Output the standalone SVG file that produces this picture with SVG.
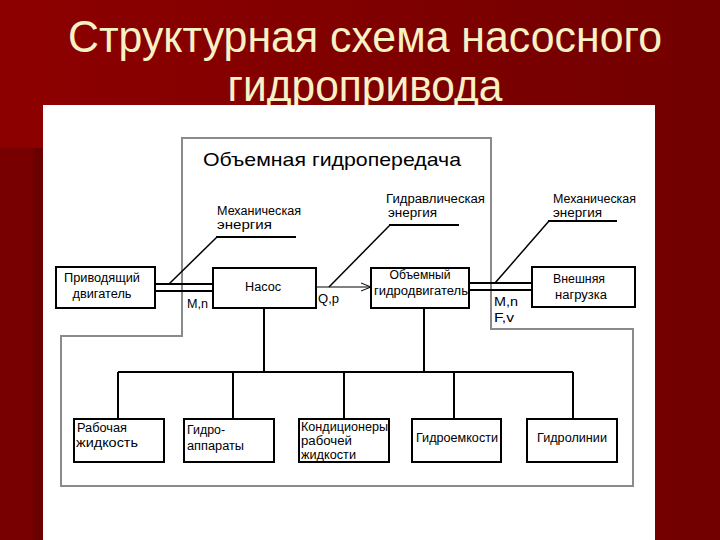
<svg xmlns="http://www.w3.org/2000/svg" width="720" height="540" viewBox="0 0 720 540">
<defs>
<linearGradient id="bg" x1="0" y1="0" x2="1" y2="0">
<stop offset="0" stop-color="#8e0000"/>
<stop offset="1" stop-color="#720000"/>
</linearGradient>
<marker id="arr" markerWidth="12" markerHeight="10" refX="11" refY="5" orient="auto" markerUnits="userSpaceOnUse">
<path d="M1,1 L11,5 L1,9" fill="none" stroke="#000" stroke-width="1"/>
</marker>
<style>
.box{fill:#fff;stroke:#000;stroke-width:2}
.ln{fill:none;stroke:#000;stroke-width:2}
.th{fill:none;stroke:#000;stroke-width:1}
.dg{fill:none;stroke:#000;stroke-width:1.5}
.fr{fill:none;stroke:#8a8a8a;stroke-width:2}
.t{font-family:"Liberation Sans",Arial,sans-serif;font-size:12px;fill:#000}
.tc{text-anchor:middle}
.title{font-family:"Liberation Sans",Arial,sans-serif;font-size:44px;fill:#f7f2c6;text-anchor:middle}
</style>
</defs>
<rect x="0" y="0" width="720" height="540" fill="url(#bg)"/>
<rect x="0" y="148" width="43" height="392" fill="#780000"/>
<rect x="33" y="148" width="10" height="392" fill="#6a0000"/>
<g id="title">
<text class="title" x="365" y="52" textLength="594" lengthAdjust="spacingAndGlyphs">Структурная схема насосного</text>
<text class="title" x="365" y="101" textLength="275" lengthAdjust="spacingAndGlyphs">гидропривода</text>
</g>
<rect x="43" y="105" width="612" height="435" fill="#fff"/>
<g id="frame">
<polygon class="fr" points="182,138 491,138 491,329 633,329 633,486 61,486 61,336 182,336"/>
<text class="t" x="203" y="166" style="font-size:19px" textLength="258" lengthAdjust="spacingAndGlyphs">Объемная гидропередача</text>
</g>
<g id="connectors">
<path class="ln" d="M155,284 H213 M155,291 H213"/>
<path class="dg" d="M169,284 L217,237"/>
<path class="ln" d="M216,237 H296"/>
<path class="th" d="M316,287 H371" marker-end="url(#arr)"/>
<path class="dg" d="M329,287 L390,225"/>
<path class="ln" d="M389,225 H459"/>
<path class="ln" d="M469,283 H532 M469,290 H532"/>
<path class="dg" d="M495,283 L549,221"/>
<path class="ln" d="M548,221 H617"/>
<path class="ln" d="M264,308 V372 M424,308 V372 M118,372 H573"/>
<path class="ln" d="M118,372 V419 M233,372 V419 M344,372 V419 M454,372 V419 M573,372 V419"/>
</g>
<g id="labels">
<text class="t" x="217" y="215" textLength="84" lengthAdjust="spacingAndGlyphs">Механическая</text>
<text class="t" x="217" y="229" textLength="55" lengthAdjust="spacingAndGlyphs">энергия</text>
<text class="t" x="386" y="203" textLength="99" lengthAdjust="spacingAndGlyphs">Гидравлическая</text>
<text class="t" x="388" y="217" textLength="49" lengthAdjust="spacingAndGlyphs">энергия</text>
<text class="t" x="553" y="203" textLength="83" lengthAdjust="spacingAndGlyphs">Механическая</text>
<text class="t" x="553" y="217" textLength="49" lengthAdjust="spacingAndGlyphs">энергия</text>
<text class="t" x="187" y="308" textLength="21" lengthAdjust="spacingAndGlyphs">M,n</text>
<text class="t" x="318" y="303" textLength="21" lengthAdjust="spacingAndGlyphs">Q,p</text>
<text class="t" x="494" y="306" textLength="24" lengthAdjust="spacingAndGlyphs">M,n</text>
<text class="t" x="494" y="322" textLength="20" lengthAdjust="spacingAndGlyphs">F,v</text>
</g>
<g id="drive">
<rect class="box" x="56" y="267" width="99" height="41"/>
<text class="t tc" x="102" y="282" textLength="76" lengthAdjust="spacingAndGlyphs">Приводящий</text>
<text class="t tc" x="102" y="298" textLength="59" lengthAdjust="spacingAndGlyphs">двигатель</text>
</g>
<g id="pump">
<rect class="box" x="213" y="268" width="103" height="40"/>
<text class="t tc" x="263" y="291" textLength="36" lengthAdjust="spacingAndGlyphs">Насос</text>
</g>
<g id="motor">
<rect class="box" x="371" y="268" width="98" height="40"/>
<text class="t tc" x="420" y="279" textLength="61" lengthAdjust="spacingAndGlyphs">Объемный</text>
<text class="t tc" x="421" y="295" textLength="94" lengthAdjust="spacingAndGlyphs">гидродвигатель</text>
</g>
<g id="load">
<rect class="box" x="532" y="267" width="103" height="40"/>
<text class="t tc" x="579" y="283" textLength="52" lengthAdjust="spacingAndGlyphs">Внешняя</text>
<text class="t tc" x="581" y="299" textLength="52" lengthAdjust="spacingAndGlyphs">нагрузка</text>
</g>
<g id="fluid">
<rect class="box" x="74" y="419" width="90" height="43"/>
<text class="t" x="77" y="432" textLength="50" lengthAdjust="spacingAndGlyphs">Рабочая</text>
<text class="t" x="76" y="447" textLength="62" lengthAdjust="spacingAndGlyphs">жидкость</text>
</g>
<g id="valves">
<rect class="box" x="184" y="419" width="90" height="43"/>
<text class="t" x="187" y="434" textLength="38" lengthAdjust="spacingAndGlyphs">Гидро-</text>
<text class="t" x="187" y="450" textLength="57" lengthAdjust="spacingAndGlyphs">аппараты</text>
</g>
<g id="conditioners">
<rect class="box" x="299" y="419" width="90" height="43"/>
<text class="t" x="301" y="431" textLength="87" lengthAdjust="spacingAndGlyphs">Кондиционеры</text>
<text class="t" x="301" y="445" textLength="51" lengthAdjust="spacingAndGlyphs">рабочей</text>
<text class="t" x="301" y="459" textLength="55" lengthAdjust="spacingAndGlyphs">жидкости</text>
</g>
<g id="tanks">
<rect class="box" x="412" y="419" width="89" height="43"/>
<text class="t" x="416" y="442" textLength="82" lengthAdjust="spacingAndGlyphs">Гидроемкости</text>
</g>
<g id="lines">
<rect class="box" x="527" y="419" width="90" height="43"/>
<text class="t" x="537" y="442" textLength="70" lengthAdjust="spacingAndGlyphs">Гидролинии</text>
</g>
</svg>
